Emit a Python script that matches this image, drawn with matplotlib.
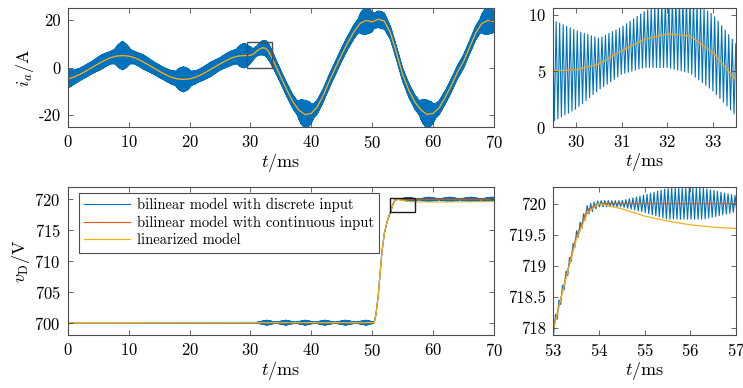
import numpy as np
import matplotlib
matplotlib.use("Agg")
import matplotlib.pyplot as plt
from matplotlib.patches import Rectangle

plt.rcParams["font.family"] = ["cmr10", "DejaVu Serif"]
plt.rcParams["mathtext.fontset"] = "cm"
plt.rcParams["axes.unicode_minus"] = False
plt.rcParams["axes.formatter.use_mathtext"] = True

# ---- phase current i_a (A) ------------------------------------------------
t_cur = [0, 1, 2, 3, 4, 5, 6, 7, 8, 9, 10, 11, 12, 13, 14, 15, 16, 17, 18, 19,
         20, 21, 22, 23, 24, 25, 26, 27, 28, 29, 29.5, 30, 30.5, 31, 31.5, 32,
         32.5, 33, 33.5, 34, 35, 36, 37, 38, 39, 40, 41, 42, 43, 44, 45, 46, 47,
         48, 49, 50, 51, 52, 53, 54, 55, 56, 57, 58, 59, 60, 61, 62, 63, 64, 65,
         66, 67, 68, 69, 70]
i_lin = [-4.8, -4.1, -2.9, -1.5, 0.0, 1.5, 2.9, 4.1, 4.8, 5.0, 4.8, 4.1, 2.9,
         1.5, 0.0, -1.5, -2.9, -4.1, -4.8, -5.0, -4.8, -4.1, -2.9, -1.5, 0.0,
         1.5, 2.9, 4.1, 4.8, 5.0, 5.0, 5.1, 5.6, 6.8, 7.8, 8.3, 8.1, 6.6, 4.2,
         1.5, -4.0, -9.5, -14.5, -18.0, -19.8, -19.3, -16.5, -11.5, -5.5, 0.0,
         5.5, 10.5, 15.0, 18.5, 19.8, 19.2, 20.3, 19.5, 14.5, 6.0, -3.0, -9.5,
         -14.5, -17.8, -19.7, -19.3, -16.9, -12.5, -7.5, -2.0, 2.5, 8.5, 14.5,
         18.5, 19.8, 19.3]
i_cont = list(i_lin)

# half peak-to-peak switching ripple of the discrete-input model (A)
t_cur_rip = [0, 1, 2, 4, 5.5, 7, 7.7, 8.3, 9, 9.7, 10.3, 11, 12.5, 14, 16,
             17.7, 18.3, 19, 19.7, 20.3, 21.5, 23.5, 25, 26.5, 27.7, 28.3, 29,
             29.5, 30, 30.5, 31, 31.5, 32, 32.5, 33, 33.5, 34.5, 36, 37.7, 38.3,
             39, 39.7, 40.4, 42, 44, 46, 47.7, 48.3, 49, 49.7, 50.3, 51.5, 53,
             55, 57.7, 58.3, 59, 59.7, 60.4, 62, 64, 66, 67.7, 68.3, 69, 69.7,
             70]
cur_rip = [4.0, 3.0, 2.6, 2.6, 3.0, 2.6, 3.0, 4.8, 6.0, 4.8, 3.0, 2.6, 3.0,
           2.6, 2.6, 3.0, 4.5, 5.3, 4.5, 3.0, 2.6, 3.0, 2.6, 3.0, 3.0, 4.5, 5.2,
           4.5, 3.5, 2.3, 2.1, 2.5, 3.0, 3.3, 3.4, 3.2, 2.8, 2.8, 3.0, 5.0, 6.0,
           5.0, 3.0, 2.8, 2.8, 2.8, 3.0, 4.8, 5.8, 4.8, 3.2, 3.6, 2.8, 2.8, 3.0,
           5.0, 6.0, 5.0, 3.0, 2.8, 2.8, 2.8, 3.0, 4.8, 5.8, 5.0, 4.5]

# ---- DC-link voltage v_D (V) ----------------------------------------------
t_volt = [0, 50.3, 50.6, 51.0, 51.3, 51.6, 52.0, 52.5, 53.0, 53.25, 53.5,
          53.75, 54.0, 54.5, 55.0, 55.5, 56.0, 56.5, 57.0, 60, 65, 70]
v_lin = [700, 700, 701.2, 704.5, 708.0, 711.5, 714.5, 716.6, 717.95, 718.7,
         719.4, 719.85, 720.0, 719.92, 719.8, 719.72, 719.66, 719.62, 719.6,
         719.58, 719.6, 719.65]
v_cont = [700, 700, 701.2, 704.5, 708.0, 711.5, 714.5, 716.6, 717.95, 718.72,
          719.45, 719.9, 720.0, 720.0, 720.0, 720.0, 720.0, 720.0, 720.0,
          720.0, 720.0, 720.0]

t_volt_rip = [0, 31, 32.7, 34.2, 35.8, 37.4, 39.0, 40.6, 42.2, 43.9, 45.6,
              47.3, 49.0, 50.3, 51, 53, 53.8, 54.0, 54.5, 55.0, 55.5, 56.3,
              57.0, 57.8, 59.3, 61.0, 62.7, 64.4, 66.2, 67.9, 69.6, 70]
volt_rip = [0.02, 0.05, 0.4, 0.08, 0.4, 0.08, 0.4, 0.08, 0.4, 0.08, 0.4,
            0.08, 0.4, 0.1, 0.1, 0.1, 0.08, 0.05, 0.05, 0.14, 0.25, 0.25, 0.13,
            0.08, 0.35, 0.08, 0.35, 0.08, 0.35, 0.08, 0.35, 0.3]

T_SW = 0.077  # switching period in ms

labels = ["bilinear model with discrete input",
          "bilinear model with continuous input",
          "linearized model"]
C_DISC, C_CONT, C_LIN = "#0072BD", "#D95319", "#EDB120"


def switched(t_base, base, t_rip, rip, t_end=70.0):
    """Triangle-shaped switching waveform around a slow trajectory."""
    t = np.arange(0.0, t_end + T_SW / 4, T_SW / 2)
    sign = np.where(np.arange(t.size) % 2 == 0, 1.0, -1.0)
    return t, np.interp(t, t_base, base) + sign * np.interp(t, t_rip, rip)


t_i_disc, i_disc = switched(t_cur, i_cont, t_cur_rip, cur_rip)
t_v_disc, v_disc = switched(t_volt, v_cont, t_volt_rip, volt_rip)

W, H = 743, 388
fig = plt.figure(figsize=(W / 100, H / 100), dpi=100)


def px_axes(x0, y0, x1, y1):
    return fig.add_axes([x0 / W, 1 - y1 / H, (x1 - x0) / W, (y1 - y0) / H])


ax_i = px_axes(67.7, 8, 494, 127)
ax_iz = px_axes(553, 8, 736, 127)
ax_v = px_axes(67.7, 187, 494, 335)
ax_vz = px_axes(553, 187, 736, 335)

for ax in (ax_i, ax_iz):
    ax.plot(t_i_disc, i_disc, color=C_DISC, lw=0.8)
    ax.plot(t_cur, i_cont, color=C_CONT, lw=0.6)
    ax.plot(t_cur, i_lin, color=C_LIN, lw=0.9)
for ax in (ax_v, ax_vz):
    ax.plot(t_v_disc, v_disc, color=C_DISC, lw=0.8, label=labels[0])
    ax.plot(t_volt, v_cont, color=C_CONT, lw=0.8, label=labels[1])
    ax.plot(t_volt, v_lin, color=C_LIN, lw=0.9, label=labels[2])

# limits and ticks
iz_xlim, iz_ylim = (29.5, 33.5), (0, 10.6)
vz_xlim, vz_ylim = (53, 57), (717.88, 720.27)

ax_i.set_xlim(0, 70); ax_i.set_ylim(-25, 25)
ax_i.set_xticks(range(0, 71, 10)); ax_i.set_yticks([-20, 0, 20])
ax_i.set_yticklabels(["-20", "0", "20"])
ax_iz.set_xlim(*iz_xlim); ax_iz.set_ylim(*iz_ylim)
ax_iz.set_xticks([30, 31, 32, 33]); ax_iz.set_yticks([0, 5, 10])
ax_v.set_xlim(0, 70); ax_v.set_ylim(698, 722)
ax_v.set_xticks(range(0, 71, 10)); ax_v.set_yticks(range(700, 721, 5))
ax_vz.set_xlim(*vz_xlim); ax_vz.set_ylim(*vz_ylim)
ax_vz.set_xticks([53, 54, 55, 56, 57])
ax_vz.set_yticks([718, 718.5, 719, 719.5, 720])
ax_vz.set_yticklabels(["718", "718.5", "719", "719.5", "720"])

for ax in (ax_i, ax_iz, ax_v, ax_vz):
    ax.set_xlabel(r"$t/\mathrm{ms}$", fontsize=13, labelpad=1)
    ax.tick_params(direction="in", top=True, right=True, length=3.5,
                   width=0.6, labelsize=12, color="0.3", pad=5)
    for s in ax.spines.values():
        s.set_linewidth(0.8)
        s.set_color("0.3")
    ax.set_axisbelow(False)

ax_i.set_ylabel(r"$i_a/\mathrm{A}$", fontsize=13, labelpad=2)
ax_v.set_ylabel(r"$v_\mathrm{D}/\mathrm{V}$", fontsize=13, labelpad=2)

# zoom markers
ax_i.add_patch(Rectangle((iz_xlim[0], iz_ylim[0]), iz_xlim[1] - iz_xlim[0],
                         iz_ylim[1] - iz_ylim[0], fill=False, ec="0.3",
                         lw=1.0, zorder=5))
ax_v.add_patch(Rectangle((vz_xlim[0], vz_ylim[0]), vz_xlim[1] - vz_xlim[0],
                         vz_ylim[1] - vz_ylim[0], fill=False, ec="0.1",
                         lw=1.0, zorder=5))

leg = ax_v.legend(loc="upper left", bbox_to_anchor=(0.027, 0.96),
                  borderaxespad=0, fontsize=10.5, fancybox=False,
                  framealpha=1, edgecolor="0.3", handlelength=3.1,
                  handletextpad=0.5, labelspacing=0.25, borderpad=0.35)
leg.get_frame().set_linewidth(0.8)

fig.savefig("out.png", dpi=100)
